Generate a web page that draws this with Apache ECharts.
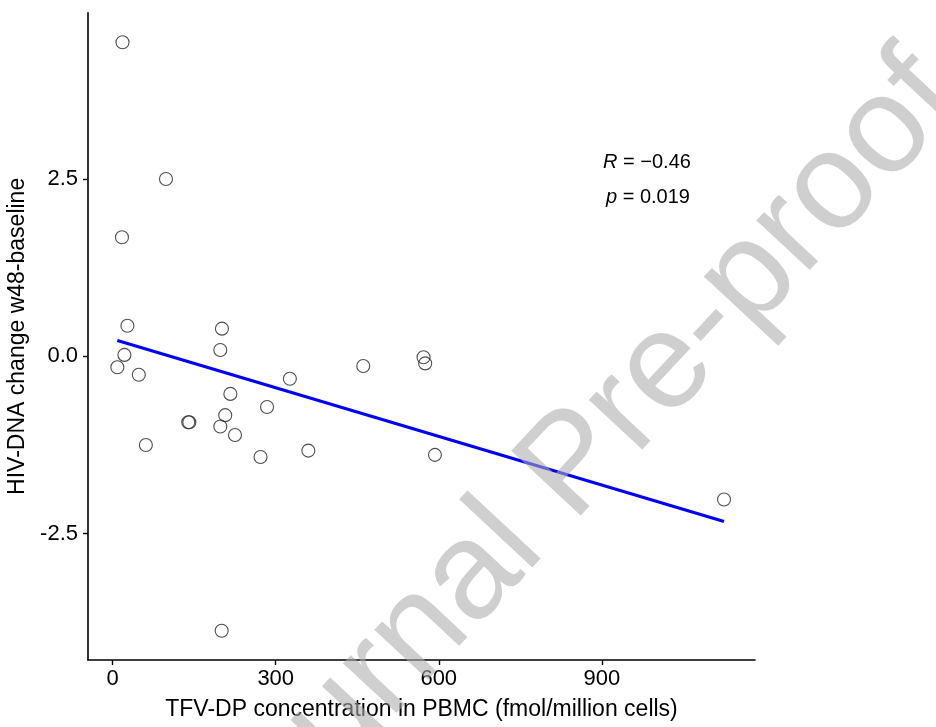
<!DOCTYPE html>
<html>
<head>
<meta charset="utf-8">
<script src="https://cdn.jsdelivr.net/npm/echarts@6/dist/echarts.min.js"></script>
<style>
html,body{margin:0;padding:0;background:#fff;}
#chart{width:936px;height:727px;}
</style>
</head>
<body>
<div id="chart"></div>
<script>
// TFV-DP concentration (fmol/million cells)
var tfvdp = [18, 98, 17, 27, 201, 198, 21.5, 8.5, 48, 326, 216.5, 284, 207, 139, 141, 198, 225, 61, 360, 272, 200.5, 461, 572, 575, 593, 1125];
// HIV-DNA change w48-baseline
var hivChange = [4.43, 2.50, 1.68, 0.43, 0.39, 0.09, 0.02, -0.155, -0.26, -0.316, -0.53, -0.715, -0.83, -0.93, -0.93, -0.99, -1.11, -1.25, -1.33, -1.42, -3.87, -0.137, -0.014, -0.10, -1.39, -2.02];
var xTicks = [0, 300, 600, 900];
var yTicks = [-2.5, 0, 2.5];
var xTitle = 'TFV-DP concentration in PBMC (fmol/million cells)';
var yTitle = 'HIV-DNA change w48-baseline';
var statR = '\u22120.46';
var statP = '0.019';
var watermark = 'Journal Pre-proof';

var points = tfvdp.map(function (x, i) { return [x, hivChange[i]]; });

// least squares fit
var n = tfvdp.length, sx = 0, sy = 0, sxx = 0, sxy = 0;
for (var i = 0; i < n; i++) { sx += tfvdp[i]; sy += hivChange[i]; sxx += tfvdp[i] * tfvdp[i]; sxy += tfvdp[i] * hivChange[i]; }
var slope = (n * sxy - sx * sy) / (n * sxx - sx * sx);
var intercept = (sy - slope * sx) / n;
var xmin = Math.min.apply(null, tfvdp), xmax = Math.max.apply(null, tfvdp);
var fitLine = [[xmin, intercept + slope * xmin], [xmax, intercept + slope * xmax]];

var FONT = "'Liberation Sans', Arial, sans-serif";
var chart = echarts.init(document.getElementById('chart'));
chart.setOption({
  animation: false,
  backgroundColor: '#fff',
  grid: { left: 88, right: 181, top: 12.7, bottom: 67, containLabel: false, outerBoundsMode: 'none' },
  xAxis: {
    type: 'value', min: -45.5, max: 1182,
    name: xTitle, nameLocation: 'middle', nameGap: 38,
    nameTextStyle: { color: '#000', fontSize: 23, fontFamily: FONT },
    axisLine: { show: true, onZero: false, lineStyle: { color: '#000', width: 1.6 } },
    axisTick: { show: true, length: 5, customValues: xTicks, lineStyle: { color: '#000', width: 1.4 } },
    axisLabel: { customValues: xTicks, color: '#000', fontSize: 22, fontFamily: FONT, margin: 8 },
    splitLine: { show: false }
  },
  yAxis: {
    type: 'value', min: -4.283, max: 4.846,
    name: yTitle, nameLocation: 'middle', nameGap: 56, nameRotate: 90,
    nameTextStyle: { color: '#000', fontSize: 23, fontFamily: FONT },
    axisLine: { show: true, onZero: false, lineStyle: { color: '#000', width: 1.6 } },
    axisTick: { show: true, length: 5, customValues: yTicks, lineStyle: { color: '#000', width: 1.4 } },
    axisLabel: { customValues: yTicks, color: '#000', fontSize: 22, fontFamily: FONT, margin: 10,
      formatter: function (v) { return v.toFixed(1); } },
    splitLine: { show: false }
  },
  series: [
    {
      type: 'scatter', data: points, symbol: 'circle', symbolSize: 13,
      itemStyle: { color: 'rgba(255,255,255,0)', borderColor: '#222', borderWidth: 1.1 },
      z: 3
    },
    {
      type: 'line', data: fitLine, showSymbol: false, symbol: 'none',
      lineStyle: { color: '#0000ff', width: 3 }, z: 4
    }
  ],
  graphic: [
    {
      type: 'text', x: 647, y: 162, z: 10,
      style: {
        text: '{i|R} = ' + statR,
        rich: { i: { fontStyle: 'italic', fontSize: 20, fontFamily: FONT, fill: '#000' } },
        fontSize: 20, fontFamily: FONT, fill: '#000', align: 'center', verticalAlign: 'middle'
      }
    },
    {
      type: 'text', x: 648, y: 197, z: 10,
      style: {
        text: '{i|p} = ' + statP,
        rich: { i: { fontStyle: 'italic', fontSize: 20, fontFamily: FONT, fill: '#000' } },
        fontSize: 20, fontFamily: FONT, fill: '#000', align: 'center', verticalAlign: 'middle'
      }
    },
    {
      type: 'text', x: 574, y: 467, rotation: 47 * Math.PI / 180, z: 100,
      style: {
        text: watermark, fontSize: 138, fontFamily: FONT,
        fill: 'rgba(173,173,173,0.58)', align: 'center', verticalAlign: 'middle'
      }
    }
  ]
});
</script>
</body>
</html>
